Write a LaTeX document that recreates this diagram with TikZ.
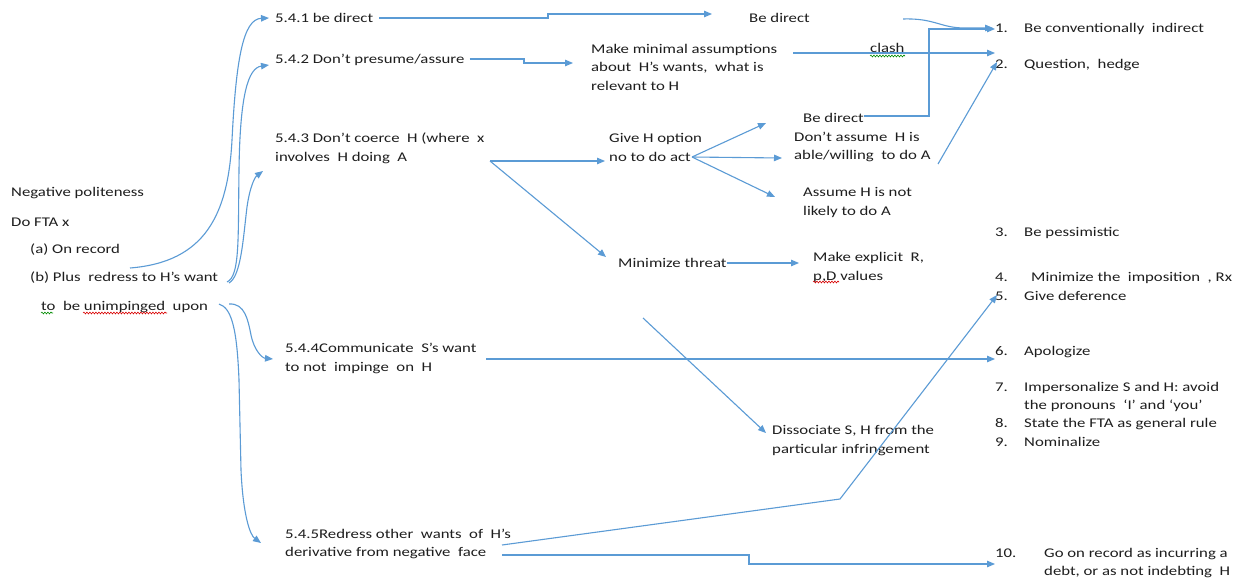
\documentclass[tikz,border=0pt]{standalone}
\usepackage{fontspec}
\setmainfont{Carlito}[FakeStretch=1.26]
\usetikzlibrary{arrows.meta,decorations.pathmorphing}
\definecolor{lnblue}{RGB}{91,155,213}
\definecolor{txt}{RGB}{30,30,30}
\begin{document}
\begin{tikzpicture}[x=1pt,y=-1pt,
  lbl/.style={anchor=base west, inner sep=0pt, align=left, text=txt,
    font=\fontsize{13.3}{18.7}\selectfont},
  conn/.style={draw=lnblue, line width=1.1pt, -{Triangle[length=8pt,width=6.5pt]}},
  wavyred/.style={draw=red!85!black, line width=0.6pt, decorate,
    decoration={snake,amplitude=0.9pt,segment length=3pt}},
  wavygreen/.style={draw=green!55!black, line width=0.6pt, decorate,
    decoration={snake,amplitude=0.9pt,segment length=3pt}}]
\useasboundingbox (0,0) rectangle (1249,581);
\fill[white] (0,0) rectangle (1249,581);

% left column
\node[lbl] (neg) at (11,196.5) {Negative politeness};
\node[lbl] (dofta) at (11,226.5) {Do FTA x};
\node[lbl] (onrec) at (30,253.5) {(a) On record};
\node[lbl] (plus) at (30,281.5) {(b) Plus\ \ redress to H’s want};
\node[lbl] (upon) at (41,310.5) {to\ \ be unimpinged\ \ upon};

% strategies (base = baseline of the last line)
\node[lbl] (n541) at (275,22.5) {5.4.1 be direct};
\node[lbl] (n542) at (275,63.5) {5.4.2 Don’t presume/assure};
\node[lbl] (n543) at (275,161.5) {5.4.3 Don’t coerce\ \ H (where\ \ x\\involves\ \ H doing\ \ A};
\node[lbl] (n544) at (285,371.5) {5.4.4Communicate\ \ S’s want\\to not\ \ impinge\ \ on\ \ H};
\node[lbl, font=\fontsize{13.3}{18}\selectfont] (n545) at (285,556.5) {5.4.5Redress other\ \ wants\ \ of\ \ H’s\\derivative from negative\ \ face};

% middle
\node[lbl] (bed1) at (749,22.5) {Be direct};
\node[lbl] (mma) at (591,90.5) {Make minimal assumptions\\about\ \ H’s wants,\ \ what is\\relevant to H};
\node[lbl] (clash) at (870,52.5) {clash};
\node[lbl] (give) at (609,161.5) {Give H option\\no to do act};
\node[lbl] (bed2) at (803,122.5) {Be direct};
\node[lbl, font=\fontsize{13.3}{17.5}\selectfont] (dont) at (794,159) {Don’t assume\ \ H is\\able/willing\ \ to do A};
\node[lbl] (assume) at (803,215.5) {Assume H is not\\likely to do A};
\node[lbl] (minth) at (618,267.5) {Minimize threat};
\node[lbl] (mexp) at (813,280.5) {Make explicit\ \ R,\\p,D values};
\node[lbl] (diss) at (772,453.5) {Dissociate S, H from the\\particular infringement};

% right list
\node[lbl] (r1) at (995,32.5) {\makebox[29pt][l]{1.}Be conventionally\ \ indirect};
\node[lbl] (r2) at (995,68.5) {\makebox[29pt][l]{2.}Question,\ \ hedge};
\node[lbl] (r3) at (995,236.5) {\makebox[29pt][l]{3.}Be pessimistic};
\node[lbl] (r4) at (995,281.5) {\makebox[36pt][l]{4.}Minimize the\ \ imposition\ \ , Rx};
\node[lbl] (r5) at (995,300.5) {\makebox[29pt][l]{5.}Give deference};
\node[lbl] (r6) at (995,355.5) {\makebox[29pt][l]{6.}Apologize};
\node[lbl, font=\fontsize{13.3}{18}\selectfont] (r7) at (995,409.5) {\makebox[29pt][l]{7.}Impersonalize S and H: avoid\\\hspace*{29pt}the pronouns\ \ ‘I’ and ‘you’};
\node[lbl] (r8) at (995,427.5) {\makebox[29pt][l]{8.}State the FTA as general rule};
\node[lbl] (r9) at (995,446.5) {\makebox[29pt][l]{9.}Nominalize};
\node[lbl, font=\fontsize{13.3}{18}\selectfont] (r10) at (995,575.5) {\makebox[49pt][l]{10.}Go on record as incurring a\\\hspace*{49pt}debt, or as not indebting\ \ H};

% free ends and branch points
\coordinate (sA) at (130,268);
\coordinate (sB) at (227,282);
\coordinate (sB2) at (229,283);
\coordinate (sC) at (229,304);
\coordinate (sC2) at (219,304);
\coordinate (sD) at (903,19);
\coordinate (sE) at (938,164);
\coordinate (sF) at (490,161);
\coordinate (sG) at (692,157);
\coordinate (sH) at (643,318);
\coordinate (sI) at (486,359);
\coordinate (sJ) at (502,545);
\coordinate (sK) at (502,555);

% curves from the left
\draw[conn] (sA) .. controls (205,262) and (228,215) .. (232,140)
  .. controls (236,60) and (243,19) .. ([shift={(-6,-4.5)}]n541.base west);
\draw[conn] (sB) .. controls (240,276) and (238,240) .. (239,170)
  .. controls (240,95) and (248,68) .. ([shift={(-6,1.5)}]n542.base west);
\draw[conn] (sB2) .. controls (241,276) and (243,240) .. (247,207)
  .. controls (250,186) and (255,177) .. ([shift={(-12,9.5)}]n543.base west);
\draw[conn] (sC) .. controls (245,303) and (248,320) .. (251,335)
  .. controls (254,350) and (262,358) .. ([shift={(-12,-12.5)}]n544.base west);
\draw[conn] (sC2) .. controls (232,308) and (237,330) .. (239,380)
  -- (241,470) .. controls (243,515) and (250,535) .. ([shift={(-24,-13.5)}]n545.base west);

% top strategies
\draw[conn] ([shift={(6,-4.5)}]n541.base east) -- (548,18) -- (548,14) -- ([shift={(-37,-8.5)}]bed1.base west);
\draw[conn] ([shift={(5,-4.5)}]n542.base east) -- (524,59) -- (524,63) -- ([shift={(-18,-27.5)}]mma.base west);
\draw[conn] (sD) .. controls (935,18) and (940,28) .. (965,28) -- ([shift={(-2,-4.5)}]r1.base west);
\draw[conn] (793,53) -- ([shift={(0,-15.5)}]r2.base west);
\draw[conn] ([shift={(0,-6.5)}]bed2.base east) -- (929,116) -- (929,29) -- ([shift={(0,-3.5)}]r1.base west);
\draw[conn] (sE) -- ([shift={(2,-6.5)}]r2.base west);

% 5.4.3 branches
\draw[conn] (sF) -- ([shift={(-4,-0.5)}]give.base west);
\draw[conn] (sF) -- ([shift={(-12,-10.5)}]minth.base west);
\draw[conn] (sG) -- ([shift={(-37,0.5)}]bed2.base west);
\draw[conn] (sG) -- ([shift={(-12,-1)}]dont.base west);
\draw[conn] (sG) -- ([shift={(-28,-18.5)}]assume.base west);
\draw[conn] ([shift={(0,-4.5)}]minth.base east) -- ([shift={(-14,-17.5)}]mexp.base west);
\draw[conn] (sH) -- ([shift={(-6,-20.5)}]diss.base west);

% 5.4.4 and 5.4.5
\draw[conn] (sI) -- ([shift={(0,3.5)}]r6.base west);
\draw[conn] (sJ) -- (840,499) -- ([shift={(2,-5.5)}]r5.base west);
\draw[conn] (sK) -- (749,555) -- (749,564) -- ([shift={(0,-11.5)}]r10.base west);

% spell-check underlines
\draw[wavygreen] (41,313) -- (53,313);
\draw[wavyred] (83,313) -- (167,313);
\draw[wavygreen] (870,56) -- (905,56);
\draw[wavyred] (813,282) -- (839,282);
\end{tikzpicture}
\end{document}
